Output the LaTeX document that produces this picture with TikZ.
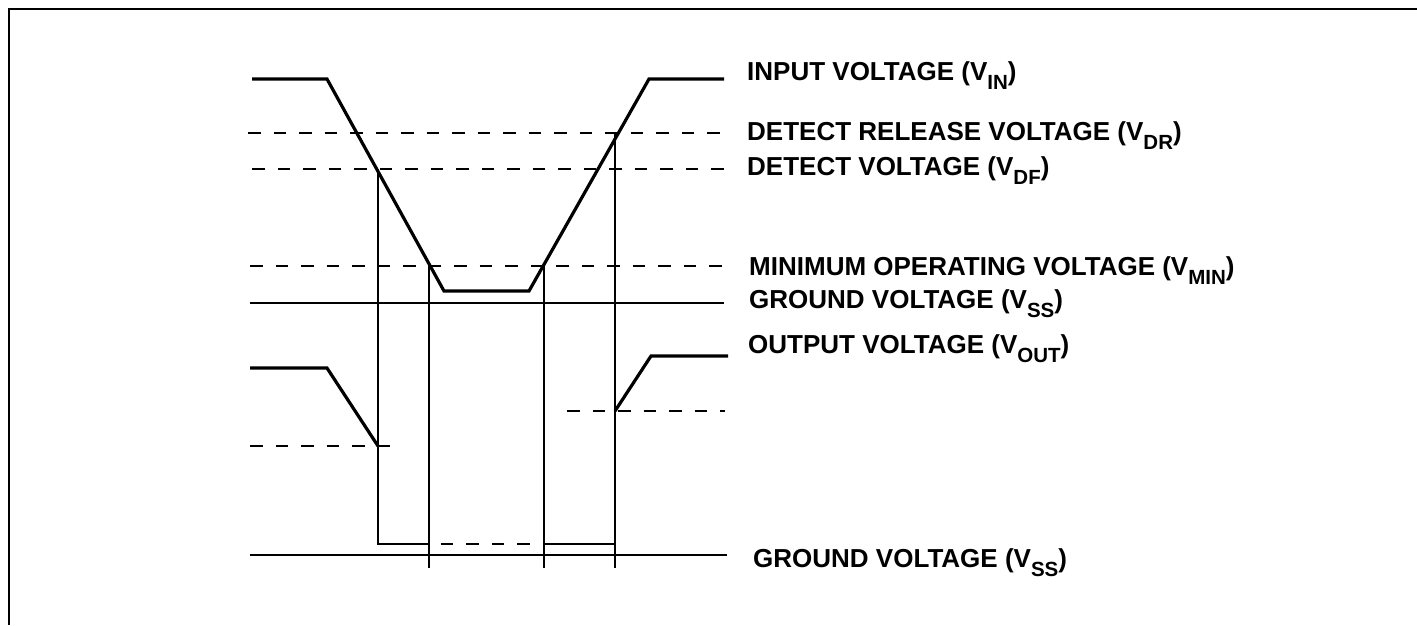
\documentclass[tikz,border=0pt]{standalone}
\usepackage{fontspec}
\setmainfont{Liberation Sans}
\newcommand{\lbsub}[1]{\raisebox{-9pt}{\fontsize{20.5}{21}\selectfont #1}}
\begin{document}
\begin{tikzpicture}[x=1pt,y=-1pt,
  thin line/.style={line width=1.5pt},
  dash line/.style={line width=1.5pt,dash pattern=on 12.5pt off 13pt},
  wave/.style={line width=3.2pt,line join=miter},
  lbl/.style={anchor=base west,inner sep=0pt,font=\bfseries\fontsize{26}{30}\selectfont}]
\useasboundingbox (0,0) rectangle (1417,625);
% frame (top and left edges visible)
\draw[line width=2pt] (8.5,625) -- (8.5,8.5) -- (1417,8.5);

% named coordinates
\coordinate (inA) at (252,79);
\coordinate (inB) at (327,79);
\coordinate (inC) at (444,291);
\coordinate (inD) at (529,291);
\coordinate (inE) at (649,79);
\coordinate (inF) at (724,79);

% reference levels
\draw[dash line] (248,133) -- (724,133);
\draw[dash line] (252,169) -- (724,169);
\draw[dash line] (250,266) -- (724,266);
\draw[thin line] (250,303) -- (724,303);
\draw[thin line] (250,555) -- (727,555);

% input voltage waveform
\draw[wave] (inA) -- (inB) -- (inC) -- (inD) -- (inE) -- (inF);

% vertical markers
\draw[thin line] (378,169) -- (378,544) -- (415,544);
\draw[dash line] (415,544) -- (544,544);
\draw[thin line] (544,544) -- (615,544);
\draw[thin line] (429,266) -- (429,568);
\draw[thin line] (544,266) -- (544,568);
\draw[thin line] (615,133) -- (615,568);

% output voltage waveform
\coordinate (oA) at (250,368);
\coordinate (oB) at (327,368);
\coordinate (oC) at (378,446);
\coordinate (oD) at (615,411);
\coordinate (oE) at (651,356);
\coordinate (oF) at (728,356);
\draw[wave] (oA) -- (oB) -- (oC);
\draw[wave] (oD) -- (oE) -- (oF);
\draw[dash line] (250,446) -- (392,446);
\draw[dash line] (567,411) -- (725,411);

% labels
\node[lbl] (l1) at (747,80) {INPUT VOLTAGE (V\lbsub{IN})};
\node[lbl] (l2) at (747,140) {DETECT RELEASE VOLTAGE (V\lbsub{DR})};
\node[lbl] (l3) at (747,175) {DETECT VOLTAGE (V\lbsub{DF})};
\node[lbl] (l4) at (749,275) {MINIMUM OPERATING VOLTAGE (V\lbsub{MIN})};
\node[lbl] (l5) at (749,308) {GROUND VOLTAGE (V\lbsub{SS})};
\node[lbl] (l6) at (748,353) {OUTPUT VOLTAGE (V\lbsub{OUT})};
\node[lbl] (l7) at (753,567) {GROUND VOLTAGE (V\lbsub{SS})};
\end{tikzpicture}
\end{document}
